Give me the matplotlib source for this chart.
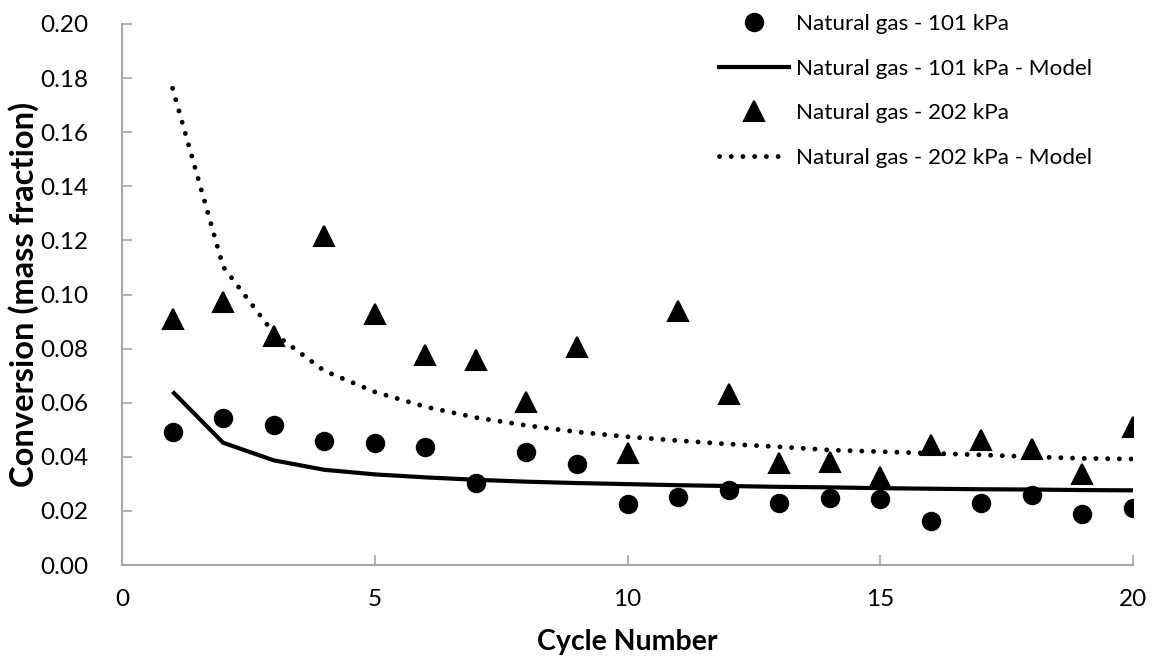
import matplotlib
matplotlib.use("Agg")
import matplotlib.pyplot as plt
from matplotlib.lines import Line2D

plt.rcParams['font.family'] = ['Lato', 'DejaVu Sans']

cycles = list(range(1, 21))
gas_101 = [0.0493, 0.0542, 0.0518, 0.0458, 0.0450, 0.0436, 0.0302, 0.0419, 0.0373, 0.0225,
           0.0253, 0.0278, 0.0229, 0.0249, 0.0243, 0.0164, 0.0229, 0.0258, 0.0190, 0.0211]
model_101 = [0.0641, 0.0452, 0.0387, 0.0352, 0.0335, 0.0324, 0.0315, 0.0308, 0.0303, 0.0299,
             0.0295, 0.0292, 0.0289, 0.0287, 0.0284, 0.0282, 0.0280, 0.0279, 0.0277, 0.0276]
gas_202 = [0.0910, 0.0972, 0.0848, 0.1215, 0.0929, 0.0778, 0.0758, 0.0602, 0.0807, 0.0413,
           0.0939, 0.0634, 0.0377, 0.0381, 0.0327, 0.0445, 0.0462, 0.0428, 0.0335, 0.0511]
model_202 = [0.1762, 0.1103, 0.0857, 0.0718, 0.0640, 0.0585, 0.0545, 0.0516, 0.0492, 0.0474,
             0.0460, 0.0447, 0.0437, 0.0425, 0.0419, 0.0413, 0.0407, 0.0400, 0.0394, 0.0392]
labels = ["Natural gas - 101 kPa", "Natural gas - 101 kPa - Model",
          "Natural gas - 202 kPa", "Natural gas - 202 kPa - Model"]

W, H = 1153, 660
fig = plt.figure(figsize=(W / 100, H / 100), dpi=100)
ax = fig.add_axes([122 / W, 1 - 565 / H, (1133 - 122) / W, (565 - 24) / H])

dot_style = (0, (0.01, 2.4))
ax.plot(cycles, model_202, color='black', lw=3.5, linestyle=dot_style,
        dash_capstyle='round', zorder=2)
ax.plot(cycles, model_101, color='black', lw=3, solid_capstyle='butt', zorder=2)
ax.plot(cycles, gas_202, linestyle='none', marker='^', markersize=14, color='black',
        markeredgewidth=1.5, markeredgecolor='black', zorder=3)
ax.plot(cycles, gas_101, linestyle='none', marker='o', markersize=14, color='black',
        markeredgewidth=0, zorder=3)

ax.set_xlim(0, 20)
ax.set_ylim(0, 0.20)
ax.set_xticks([0, 5, 10, 15, 20])
ax.set_yticks([i * 0.02 for i in range(11)])
ax.set_yticklabels([f"{i * 0.02:.2f}" for i in range(11)])

for s in ['top', 'right']:
    ax.spines[s].set_visible(False)
for s in ['left', 'bottom']:
    ax.spines[s].set_color('#a6a6a6')
    ax.spines[s].set_linewidth(1.5)
ax.tick_params(axis='both', direction='in', color='#a6a6a6', width=1.2, length=7,
               labelsize=17.5, labelcolor='black')
ax.tick_params(axis='y', pad=24)
ax.tick_params(axis='x', pad=17)

ax.set_ylabel("Conversion (mass fraction)", fontsize=23.5, fontweight='bold')
ax.yaxis.set_label_coords(-(122 - 39) / (1133 - 122), 0.5)
ax.set_xlabel("Cycle Number", fontsize=20.5, fontweight='bold')
ax.xaxis.set_label_coords(0.5, -(629 - 565) / (565 - 24))

handles = [
    Line2D([], [], linestyle='none', marker='o', markersize=14, color='black', markeredgewidth=0),
    Line2D([], [], color='black', lw=3),
    Line2D([], [], linestyle='none', marker='^', markersize=14, color='black', markeredgewidth=1.5),
    Line2D([], [], color='black', lw=3.5, linestyle=dot_style, dash_capstyle='round'),
]
leg = ax.legend(handles, labels, loc='upper left', bbox_to_anchor=(719 / W, 1 - 14 / H),
                bbox_transform=fig.transFigure, frameon=False, fontsize=16.2,
                handlelength=3.1, handletextpad=0.3, labelspacing=1.09,
                borderpad=0, borderaxespad=0)

fig.savefig("out.png", dpi=100)
